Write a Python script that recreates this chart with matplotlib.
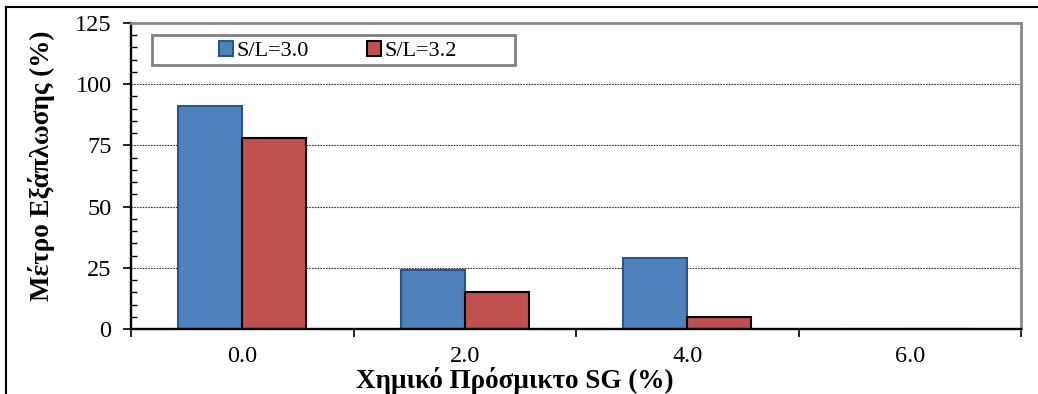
import numpy as np
import matplotlib
matplotlib.use('Agg')
import matplotlib.pyplot as plt
from matplotlib.lines import Line2D
from matplotlib.patches import Rectangle
from matplotlib.ticker import MultipleLocator, FixedLocator

plt.rcParams['font.family'] = ['Liberation Serif', 'DejaVu Serif']

# data
categories = ['0.0', '2.0', '4.0', '6.0']
sl_30 = [91, 24, 29, 0]
sl_32 = [78, 15, 5, 0]
series_labels = ['S/L=3.0', 'S/L=3.2']

fig = plt.figure(figsize=(10.38, 3.94), dpi=100)
ax = fig.add_axes([131/1038, 1 - 329/394, 890/1038, 306/394])
ax.set_axisbelow(True)

x = np.arange(len(categories))
w = 0.288
ax.bar(x - w/2, sl_30, w, color='#4F81BD', edgecolor='#2B5487', linewidth=1.5,
       label=series_labels[0], zorder=2)
ax.bar(x + w/2, sl_32, w, color='#C0504D', edgecolor='black', linewidth=1.5,
       label=series_labels[1], zorder=2)

ax.set_xlim(-0.5, len(categories) - 0.5)
ax.set_ylim(0, 125)
ax.yaxis.set_major_locator(MultipleLocator(25))
ax.yaxis.set_minor_locator(MultipleLocator(5))
ax.yaxis.grid(True, which='major', linestyle=(0, (1.5, 1)), color='#333333', linewidth=0.8)

# category boundaries as ticks, labels in the middle
ax.xaxis.set_major_locator(FixedLocator(np.arange(len(categories) + 1) - 0.5))
ax.xaxis.set_minor_locator(FixedLocator(x))
ax.set_xticklabels([], minor=False)
ax.set_xticklabels(categories, minor=True)
ax.tick_params(axis='x', which='major', direction='out', length=6, width=1.2)
ax.tick_params(axis='x', which='minor', length=0, pad=12, labelsize=17.5)
ax.tick_params(axis='y', which='major', direction='out', length=6, width=1.2, pad=8, labelsize=17.5)
ax.tick_params(axis='y', which='minor', direction='in', length=4, width=1.0)

for s in ['top', 'right']:
    ax.spines[s].set_color('#888888')
    ax.spines[s].set_linewidth(2)
for s in ['left', 'bottom']:
    ax.spines[s].set_color('black')
    ax.spines[s].set_linewidth(1.7)

fig.text(42/1038, 1 - 166/394, 'Μέτρο Εξάπλωσης (%)', fontsize=19.5, fontweight='bold',
         rotation=90, ha='center', va='center')
fig.text(515/1038, 1 - 381/394, 'Χημικό Πρόσμικτο SG (%)', fontsize=19.5,
         fontweight='bold', ha='center', va='center')

# legend box
bx0, by0, bw, bh = 21/890, 0.863, 363/890, 0.098
ax.add_patch(Rectangle((bx0, by0), bw, bh, transform=ax.transAxes, facecolor='white',
                       edgecolor='#808080', linewidth=2, zorder=4))
leg = ax.legend(loc='center', bbox_to_anchor=(bx0 + bw/2 + 0.005, by0 + bh/2 - 0.004), ncol=2,
                fontsize=16, frameon=False, handlelength=0.65, handleheight=0.65,
                handletextpad=0.15, columnspacing=2.6, borderaxespad=0)
leg.set_zorder(5)

# outer chart frame
fig.add_artist(Line2D([6/1038, 1], [1 - 7/394] * 2, color='black', linewidth=1.5))
fig.add_artist(Line2D([6/1038] * 2, [0, 1 - 7/394], color='black', linewidth=1.5))

fig.savefig('out.png', dpi=100)
